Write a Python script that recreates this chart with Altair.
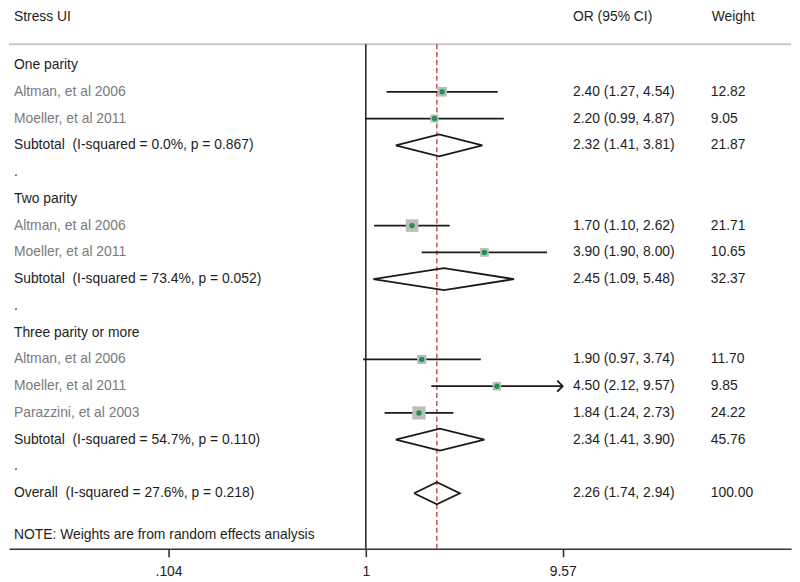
import altair as alt
import pandas as pd

# ---- data ----
labels = [
    "One parity",
    "Altman, et al 2006",
    "Moeller, et al 2011",
    "Subtotal\u00a0 (I-squared = 0.0%, p = 0.867)",
    ".",
    "Two parity",
    "Altman, et al 2006",
    "Moeller, et al 2011",
    "Subtotal\u00a0 (I-squared = 73.4%, p = 0.052)",
    ".",
    "Three parity or more",
    "Altman, et al 2006",
    "Moeller, et al 2011",
    "Parazzini, et al 2003",
    "Subtotal\u00a0 (I-squared = 54.7%, p = 0.110)",
    ".",
    "Overall\u00a0 (I-squared = 27.6%, p = 0.218)",
]
kinds = ["head", "study", "study", "sub", "blank",
         "head", "study", "study", "sub", "blank",
         "head", "study", "study", "study", "sub", "blank",
         "sub"]
est = [None, 2.40, 2.20, 2.32, None,
       None, 1.70, 3.90, 2.45, None,
       None, 1.90, 4.50, 1.84, 2.34, None,
       2.26]
lo = [None, 1.27, 0.99, 1.41, None,
      None, 1.10, 1.90, 1.09, None,
      None, 0.97, 2.12, 1.24, 1.41, None,
      1.74]
hi = [None, 4.54, 4.87, 3.81, None,
      None, 2.62, 8.00, 5.48, None,
      None, 3.74, 9.57, 2.73, 3.90, None,
      2.94]
weights = [None, 12.82, 9.05, 21.87, None,
           None, 21.71, 10.65, 32.37, None,
           None, 11.70, 9.85, 24.22, 45.76, None,
           100.00]

tick_vals = [0.104, 1, 9.57]
tick_labels = [".104", "1", "9.57"]
overall_est = 2.26
title_left = "Stress UI"
title_or = "OR (95% CI)"
title_w = "Weight"
note = "NOTE: Weights are from random effects analysis"

# ---- layout ----
W, H = 789, 543
ROW_TOP, ROW_BOT = -2.037, 18.074
TOP_LINE = -0.78
NOTE_ROW = 17.56
HALF = 0.41
FONT = "Liberation Sans"
FS = 14
XDOM = [0.01668, 131.4]

rows = []
for i, lab in enumerate(labels):
    rows.append(dict(
        row=i, label=lab, kind=kinds[i], est=est[i], lo=lo[i], hi=hi[i],
        w=weights[i],
        ci_txt=(f"{est[i]:.2f} ({lo[i]:.2f}, {hi[i]:.2f})" if est[i] is not None else ""),
        w_txt=(f"{weights[i]:.2f}" if weights[i] is not None else ""),
        arrow=(hi[i] is not None and hi[i] >= max(tick_vals)),
    ))
df = pd.DataFrame(rows)
studies = df[df.kind == "study"]
subs = df[df.kind == "sub"]

poly = []
for _, r in subs.iterrows():
    pts = [(r.lo, r.row), (r.est, r.row - HALF), (r.hi, r.row), (r.est, r.row + HALF), (r.lo, r.row)]
    for k, (xv, yv) in enumerate(pts):
        poly.append(dict(key=int(r.row), order=k, x=xv, y=yv))
poly = pd.DataFrame(poly)

xscale = alt.Scale(type="log", domain=XDOM, nice=False, zero=False)
yscale = alt.Scale(domain=[ROW_TOP, ROW_BOT], reverse=True, nice=False, zero=False)

label_expr = " : ".join(
    f"datum.value == {v} ? '{l}'" for v, l in zip(tick_vals[:-1], tick_labels[:-1])
) + f" : '{tick_labels[-1]}'"

xaxis = alt.Axis(values=tick_vals, labelExpr=label_expr, title=None, grid=False,
                 domainColor="#333333", domainWidth=1.6, tickColor="#333333",
                 tickWidth=1.6, tickSize=8, labelPadding=8, labelFont=FONT,
                 labelFontSize=FS, labelColor="#222222", labelFlush=False)

base = alt.Chart(df)

top_df = pd.DataFrame({"y": [TOP_LINE], "y2": [ROW_BOT], "x": [1.0], "xo": [overall_est]})
top_line = alt.Chart(top_df).mark_rule(color="#c8c8c8", strokeWidth=2).encode(
    y=alt.Y("y:Q", scale=yscale, axis=None)
)
null_line = alt.Chart(top_df).mark_rule(color="#333333", strokeWidth=1.7).encode(
    x=alt.X("x:Q", scale=xscale, axis=xaxis), y=alt.Y("y:Q", scale=yscale), y2="y2:Q"
)
dash_line = alt.Chart(top_df).mark_rule(color="#b23c3c", strokeWidth=1.3, strokeDash=[5, 3]).encode(
    x=alt.X("xo:Q", scale=xscale), y=alt.Y("y:Q", scale=yscale), y2="y2:Q"
)

squares = alt.Chart(studies).mark_square(color="#bdbdbd", opacity=1).encode(
    x=alt.X("est:Q", scale=xscale), y=alt.Y("row:Q", scale=yscale),
    size=alt.Size("w:Q", scale=alt.Scale(domain=[0, 100], range=[0, 740]), legend=None),
)
ci = alt.Chart(studies).mark_rule(color="#1a1a1a", strokeWidth=1.8).encode(
    x=alt.X("lo:Q", scale=xscale), x2="hi:Q", y=alt.Y("row:Q", scale=yscale)
)
dots = alt.Chart(studies).mark_circle(color="#1f9450", size=30, opacity=1).encode(
    x=alt.X("est:Q", scale=xscale), y=alt.Y("row:Q", scale=yscale)
)
arrows = alt.Chart(studies[studies.arrow]).mark_point(
    shape="M-1,-1L0,0L-1,1", filled=False, color="#1a1a1a", strokeWidth=1.8, size=121, opacity=1
).encode(x=alt.X("hi:Q", scale=xscale), y=alt.Y("row:Q", scale=yscale))

diamonds = alt.Chart(poly).mark_line(color="#1a1a1a", strokeWidth=1.8).encode(
    x=alt.X("x:Q", scale=xscale), y=alt.Y("y:Q", scale=yscale),
    detail="key:N", order="order:Q"
)

txt_kw = dict(font=FONT, fontSize=FS, align="left")
left_txt = base.mark_text(baseline="middle", **txt_kw).encode(
    x=alt.value(5), y=alt.Y("row:Q", scale=yscale), text="label:N",
    color=alt.condition("datum.kind == 'study'", alt.value("#7a7a7a"), alt.value("#1e1e1e")),
)
or_txt = base.mark_text(color="#1e1e1e", baseline="middle", **txt_kw).encode(
    x=alt.value(569), y=alt.Y("row:Q", scale=yscale), text="ci_txt:N"
)
w_txt = base.mark_text(color="#1e1e1e", baseline="middle", **txt_kw).encode(
    x=alt.value(708), y=alt.Y("row:Q", scale=yscale), text="w_txt:N"
)

hdr_df = pd.DataFrame({
    "t": [title_left, title_or, title_w],
    "px": [5, 569, 709],
    "row": [ROW_TOP] * 3,
})
hdr = alt.Chart(hdr_df).mark_text(color="#1e1e1e", baseline="top", **txt_kw).encode(
    x=alt.X("px:Q", scale=None), y=alt.Y("row:Q", scale=yscale), text="t:N"
)
note_df = pd.DataFrame({"t": [note], "row": [NOTE_ROW]})
note_txt = alt.Chart(note_df).mark_text(color="#1e1e1e", baseline="middle", **txt_kw).encode(
    x=alt.value(5), y=alt.Y("row:Q", scale=yscale), text="t:N"
)

chart = alt.layer(
    top_line, null_line, dash_line, ci, squares, dots, arrows, diamonds,
    left_txt, or_txt, w_txt, hdr, note_txt
).properties(width=W, height=H, padding=0, background="white").configure_view(stroke=None)

chart.save("out.html", embed_options={"renderer": "svg", "actions": False})
